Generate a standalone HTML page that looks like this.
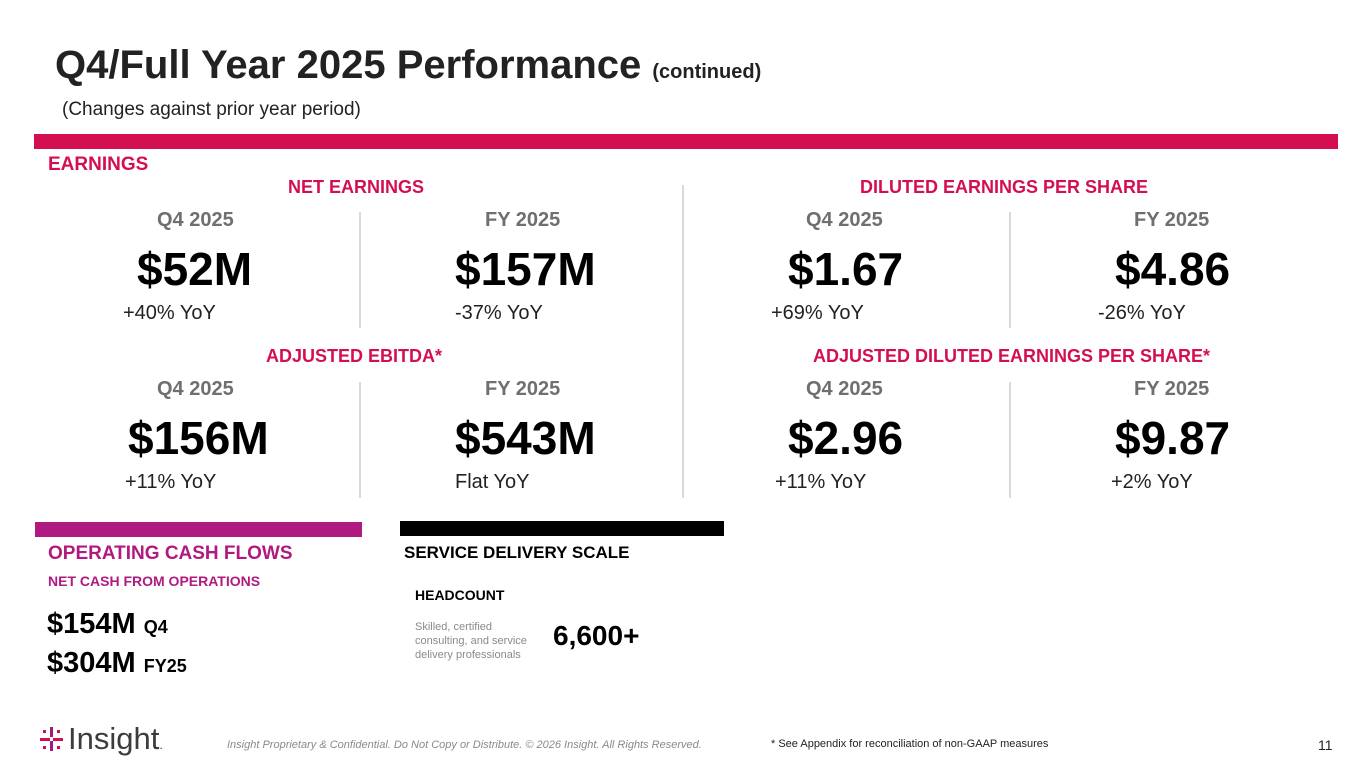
<!DOCTYPE html>
<html><head><meta charset="utf-8"><style>
body{margin:0;width:1365px;height:768px;background:#fff;position:relative;overflow:hidden;font-family:"Liberation Sans",Arial,sans-serif}
div,span{position:absolute;white-space:nowrap;line-height:1}
.h{font-size:20px;font-weight:bold;color:#6f6f6f}
.v{font-size:46px;font-weight:bold;color:#000}
.y{font-size:20px;color:#222}
.s{font-size:18px;font-weight:bold;color:#d40f50}
.vl{width:2px;background:#d9d9d9}
</style></head><body>
<div style="left:55px;top:45px;font-size:40px;font-weight:bold;color:#222">Q4/Full Year 2025 Performance <span style="position:static;font-size:20px">(continued)</span></div>
<div style="left:62px;top:100px;font-size:19px;color:#222">(Changes against prior year period)</div>
<div style="left:34px;top:134px;width:1304px;height:15px;background:#d40f50"></div>
<div style="left:48px;top:155px;font-size:19px;font-weight:bold;color:#d40f50">EARNINGS</div>

<div class="s" style="left:288px;top:178px">NET EARNINGS</div>
<div class="s" style="left:860px;top:178px">DILUTED EARNINGS PER SHARE</div>
<div class="s" style="left:266px;top:347px">ADJUSTED EBITDA*</div>
<div class="s" style="left:813px;top:347px">ADJUSTED DILUTED EARNINGS PER SHARE*</div>

<div class="h" style="left:157px;top:210px">Q4 2025</div>
<div class="h" style="left:485px;top:210px">FY 2025</div>
<div class="h" style="left:806px;top:210px">Q4 2025</div>
<div class="h" style="left:1134px;top:210px">FY 2025</div>
<div class="v" style="left:137px;top:246px">$52M</div>
<div class="v" style="left:455px;top:246px">$157M</div>
<div class="v" style="left:788px;top:246px">$1.67</div>
<div class="v" style="left:1115px;top:246px">$4.86</div>
<div class="y" style="left:123px;top:303px">+40% YoY</div>
<div class="y" style="left:455px;top:303px">-37% YoY</div>
<div class="y" style="left:771px;top:303px">+69% YoY</div>
<div class="y" style="left:1098px;top:303px">-26% YoY</div>

<div class="h" style="left:157px;top:379px">Q4 2025</div>
<div class="h" style="left:485px;top:379px">FY 2025</div>
<div class="h" style="left:806px;top:379px">Q4 2025</div>
<div class="h" style="left:1134px;top:379px">FY 2025</div>
<div class="v" style="left:128px;top:415px">$156M</div>
<div class="v" style="left:455px;top:415px">$543M</div>
<div class="v" style="left:788px;top:415px">$2.96</div>
<div class="v" style="left:1115px;top:415px">$9.87</div>
<div class="y" style="left:125px;top:472px">+11% YoY</div>
<div class="y" style="left:455px;top:472px">Flat YoY</div>
<div class="y" style="left:775px;top:472px">+11% YoY</div>
<div class="y" style="left:1111px;top:472px">+2% YoY</div>

<div class="vl" style="left:359px;top:212px;height:116px"></div>
<div class="vl" style="left:1009px;top:212px;height:116px"></div>
<div class="vl" style="left:359px;top:382px;height:116px"></div>
<div class="vl" style="left:1009px;top:382px;height:116px"></div>
<div class="vl" style="left:682px;top:185px;height:313px"></div>

<div style="left:35px;top:522px;width:327px;height:15px;background:#b01a80"></div>
<div style="left:400px;top:521px;width:324px;height:15px;background:#000"></div>
<div style="left:48px;top:544px;font-size:19px;font-weight:bold;color:#b01a80">OPERATING CASH FLOWS</div>
<div style="left:48px;top:574px;font-size:14px;font-weight:bold;color:#b01a80">NET CASH FROM OPERATIONS</div>
<div style="left:47px;top:610px;font-size:29px;font-weight:bold;color:#000">$154M <span style="position:static;font-size:18px">Q4</span></div>
<div style="left:47px;top:649px;font-size:29px;font-weight:bold;color:#000">$304M <span style="position:static;font-size:18px">FY25</span></div>
<div style="left:404px;top:544px;font-size:17px;font-weight:bold;color:#000">SERVICE DELIVERY SCALE</div>
<div style="left:415px;top:588px;font-size:14px;font-weight:bold;color:#000">HEADCOUNT</div>
<div style="left:415px;top:620px;font-size:11px;color:#8a8a8a;line-height:14px">Skilled, certified<br>consulting, and service<br>delivery professionals</div>
<div style="left:553px;top:622px;font-size:28px;font-weight:bold;color:#000">6,600+</div>

<div style="left:40px;top:725px;width:130px;height:32px">
<svg width="26" height="30" style="position:absolute;left:0;top:2px"><g fill="#d40f50"><rect x="3" y="3" width="3" height="3"/><rect x="17" y="3" width="3" height="3"/><rect x="0" y="11" width="10" height="3"/><rect x="13" y="11" width="10" height="3"/><rect x="3" y="19" width="3" height="3"/><rect x="17" y="19" width="3" height="3"/></g><g fill="#9c1d82"><rect x="10" y="0" width="3" height="10"/><rect x="10" y="14" width="3" height="10"/></g></svg>
<span style="left:28px;top:-2px;font-size:31px;color:#3f3b3c">Insight<span style="position:static;font-size:12px">.</span></span></div>
<div style="left:227px;top:740px;font-size:11px;font-style:italic;color:#8a8a8a">Insight Proprietary &amp; Confidential. Do Not Copy or Distribute. © 2026 Insight. All Rights Reserved.</div>
<div style="left:771px;top:739px;font-size:11px;color:#222">*  See Appendix for reconciliation of non-GAAP measures</div>
<div style="left:1318px;top:738px;font-size:14px;color:#222">11</div>
</body></html>
